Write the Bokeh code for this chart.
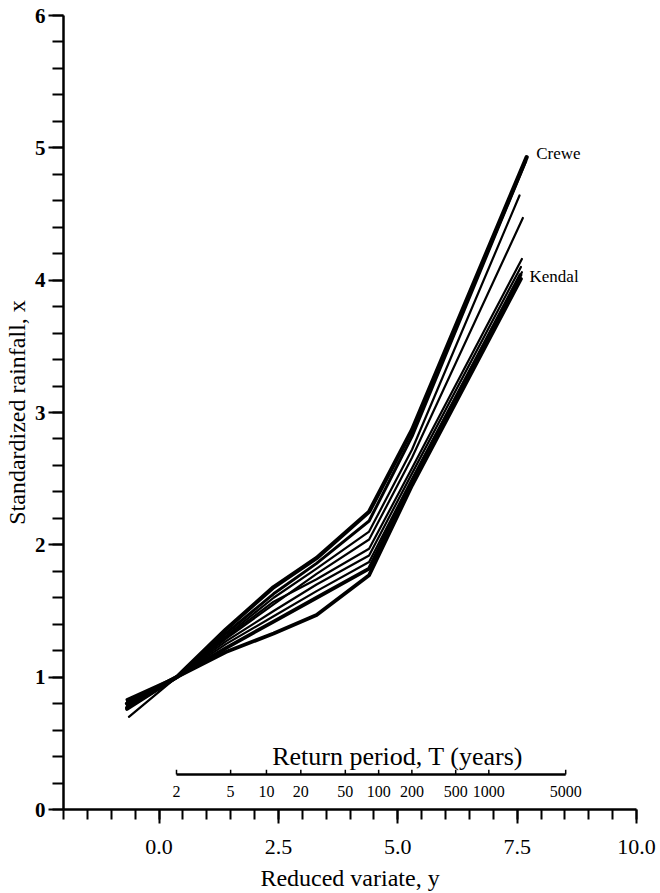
import numpy as np
from bokeh.plotting import figure
from bokeh.models import Range1d, FixedTicker, PrintfTickFormatter
from bokeh.core.properties import value
from bokeh.embed import file_html
from bokeh.resources import INLINE

# ---- data ----
# common plotting positions (reduced variate) of the curve vertices
vertex_x = [0.37, 1.4, 2.4, 3.3, 4.4, 5.3]
start_x = [-0.67, -0.67, -0.67, -0.67, -0.63, -0.67, -0.67, -0.67, -0.67]
end_x = [7.70, 7.68, 7.55, 7.62, 7.60, 7.58, 7.57, 7.58, 7.60]

crewe = [0.80, 1.00, 1.36, 1.68, 1.90, 2.25, 2.87, 4.93]
station2 = [0.83, 1.00, 1.33, 1.63, 1.86, 2.18, 2.82, 4.90]
station3 = [0.79, 1.00, 1.31, 1.60, 1.82, 2.10, 2.72, 4.64]
station4 = [0.78, 1.00, 1.29, 1.55, 1.78, 2.04, 2.66, 4.47]
station5 = [0.70, 1.00, 1.30, 1.57, 1.74, 1.97, 2.58, 4.16]
station6 = [0.82, 1.00, 1.27, 1.50, 1.70, 1.92, 2.54, 4.10]
kendal = [0.76, 1.00, 1.22, 1.42, 1.60, 1.82, 2.48, 4.04]
station8 = [0.77, 1.00, 1.19, 1.33, 1.47, 1.77, 2.45, 4.01]
station9 = [0.81, 1.00, 1.25, 1.46, 1.65, 1.87, 2.50, 4.06]

series = [crewe, station2, station3, station4, station5, station6, kendal, station8, station9]
widths = [4.2, 3.0, 2.2, 2.2, 2.2, 2.2, 3.8, 3.8, 2.2]

labels = ["Crewe", "Kendal"]
label_x = [7.90, 7.76]
label_y = [4.96, 4.03]

return_periods = [2, 5, 10, 20, 50, 100, 200, 500, 1000, 5000]
rp_axis_y = 0.265

x_major = [0, 2.5, 5, 7.5, 10]
x_minor = list(np.arange(-2, 10.01, 0.5))
y_major = [0, 1, 2, 3, 4, 5, 6]
y_minor = list(np.arange(0, 6.01, 0.2))

FONT = "Liberation Serif"

p = figure(frame_width=573, frame_height=794, output_backend="svg",
           toolbar_location=None, x_range=Range1d(-2, 10), y_range=Range1d(0, 6),
           min_border_left=56, min_border_top=15, min_border_right=20, min_border_bottom=74)
p.outline_line_color = None
p.xgrid.visible = False
p.ygrid.visible = False

for ys, sx, ex, w in zip(series, start_x, end_x, widths):
    xs = [sx] + vertex_x + [ex]
    p.line(xs, ys, line_color="black", line_width=w, line_join="round", line_cap="round")

p.text(x=label_x, y=label_y, text=labels, text_font=value(FONT), text_font_size="17px",
       text_baseline="middle", text_align="left", text_color="black")

# return period scale drawn inside the plot
rp = np.array(return_periods, dtype=float)
rp_x = -np.log(-np.log(1 - 1 / rp))
p.line([rp_x[0], rp_x[-1]], [rp_axis_y, rp_axis_y], line_color="black", line_width=2.5)
p.segment(x0=rp_x, y0=[rp_axis_y] * len(rp_x), x1=rp_x, y1=[rp_axis_y + 0.035] * len(rp_x),
          line_color="black", line_width=1.5)
p.text(x=rp_x, y=[rp_axis_y - 0.13] * len(rp_x), text=[str(t) for t in return_periods],
       text_font=value(FONT), text_font_size="16px", text_font_style="normal",
       text_align="center", text_baseline="middle", text_color="black")
p.text(x=[5.0], y=[0.40], text=["Return period, T (years)"], text_font=value(FONT),
       text_font_size="26px", text_align="center", text_baseline="middle", text_color="black")

# axes
xa = p.xaxis[0]
xa.ticker = FixedTicker(ticks=x_major, minor_ticks=x_minor)
xa.formatter = PrintfTickFormatter(format="%.1f")
xa.axis_label = "Reduced variate, y"
xa.axis_label_text_font = FONT
xa.axis_label_text_font_style = "normal"
xa.axis_label_text_font_size = "24px"
xa.axis_label_text_color = "black"
xa.axis_label_standoff = 8
xa.major_label_text_font = FONT
xa.major_label_text_font_size = "22px"
xa.major_label_text_color = "black"
xa.major_label_standoff = 16
xa.axis_line_width = 2.5
xa.axis_line_color = "black"
xa.major_tick_line_width = 2
xa.minor_tick_line_width = 2
xa.major_tick_line_color = "black"
xa.minor_tick_line_color = "black"
xa.major_tick_out = 14
xa.major_tick_in = 0
xa.minor_tick_out = 10
xa.minor_tick_in = 0

ya = p.yaxis[0]
ya.ticker = FixedTicker(ticks=y_major, minor_ticks=y_minor)
ya.axis_label = "Standardized rainfall, x"
ya.axis_label_text_font = FONT
ya.axis_label_text_font_style = "normal"
ya.axis_label_text_font_size = "24px"
ya.axis_label_text_color = "black"
ya.axis_label_standoff = 2
ya.major_label_text_font = FONT
ya.major_label_text_font_size = "21px"
ya.major_label_text_font_style = "bold"
ya.major_label_text_color = "black"
ya.major_label_standoff = 3
ya.axis_line_width = 2.5
ya.axis_line_color = "black"
ya.major_tick_line_width = 2
ya.minor_tick_line_width = 2
ya.major_tick_line_color = "black"
ya.minor_tick_line_color = "black"
ya.major_tick_out = 15
ya.major_tick_in = 0
ya.minor_tick_out = 11
ya.minor_tick_in = 0

open("out.html", "w").write(file_html(p, INLINE))
